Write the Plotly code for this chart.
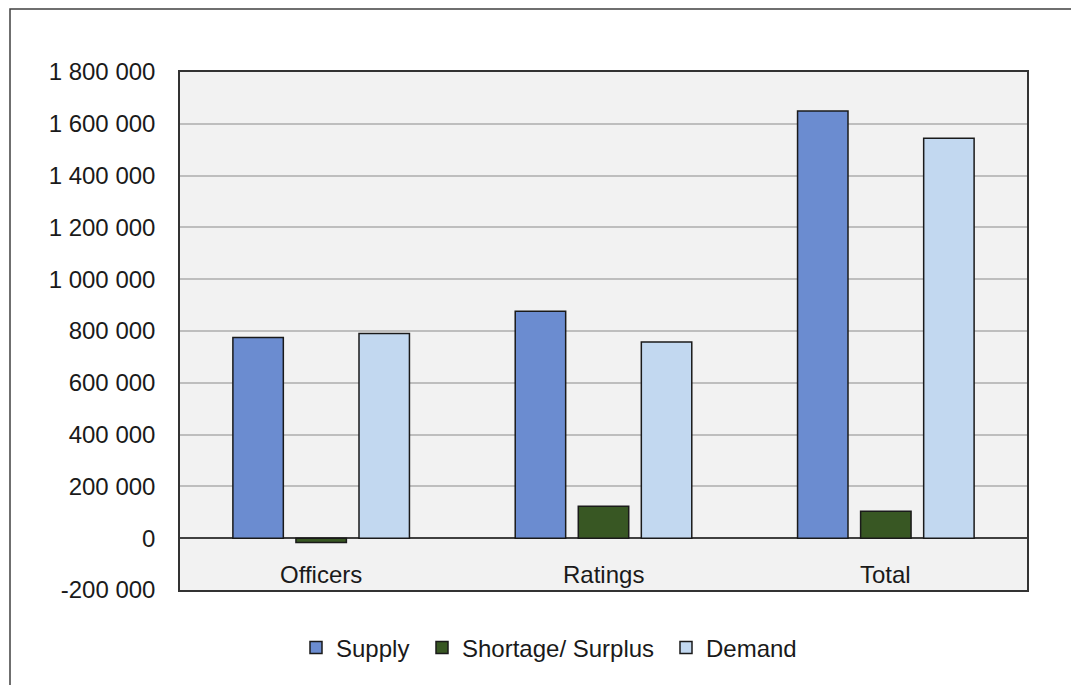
import plotly.graph_objects as go

categories = ["Officers", "Ratings", "Total"]
supply = [775000, 876000, 1649000]
shortage = [-16500, 123000, 104000]
demand = [790000, 758000, 1544000]
series_names = ["Supply", "Shortage/ Surplus", "Demand"]
colors = ["#6B8CD0", "#385723", "#C2D8F0"]
tick_vals = [-200000, 0, 200000, 400000, 600000, 800000, 1000000, 1200000, 1400000, 1600000, 1800000]
tick_text = ["-200 000", "0", "200 000", "400 000", "600 000", "800 000", "1 000 000",
             "1 200 000", "1 400 000", "1 600 000", "1 800 000"]

FONT = "Liberation Sans, Arial, sans-serif"
FS = 24
W, H = 1071, 685
L, R, T, B = 180, 1027, 72, 590
pw, ph = R - L, B - T

legend_ids = ["legend", "legend2", "legend3"]
legend_left_px = [296, 422, 666]

fig = go.Figure()
for name, vals, col, lg in zip(series_names, [supply, shortage, demand], colors, legend_ids):
    fig.add_trace(go.Bar(x=categories, y=vals, name=name, legend=lg,
                         marker=dict(color=col, line=dict(color="#1a1a1a", width=1.5))))

for c in categories:
    fig.add_annotation(x=c, y=-100000, xref="x", yref="y", text=c, showarrow=False,
                       font=dict(family=FONT, size=FS, color="#1a1a1a"), yshift=-10)

fig.add_shape(type="rect", xref="paper", yref="paper",
              x0=(10 - L) / pw, x1=(1090 - L) / pw, y0=(B - 720) / ph, y1=(B - 9) / ph,
              line=dict(color="#404040", width=1.5), fillcolor="rgba(0,0,0,0)", layer="below")

legend_common = dict(orientation="h", xanchor="left", y=(B - 648) / ph, yanchor="middle",
                     font=dict(family=FONT, size=FS, color="#1a1a1a"), bgcolor="rgba(0,0,0,0)",
                     itemwidth=30)
layout_legends = {}
for lg, px in zip(legend_ids, legend_left_px):
    layout_legends[lg] = dict(legend_common, x=(px - L) / pw)

fig.update_layout(
    width=W, height=H,
    margin=dict(l=L, r=W - R, t=T, b=H - B),
    paper_bgcolor="white", plot_bgcolor="#F2F2F2",
    barmode="group", bargap=0.33, bargroupgap=0.2,
    font=dict(family=FONT, size=FS, color="#1a1a1a"),
    showlegend=True,
    xaxis=dict(showticklabels=False, showgrid=False, showline=True, mirror=True,
               linecolor="#333333", linewidth=1.5, ticks=""),
    yaxis=dict(range=[-200000, 1800000], tickvals=tick_vals, ticktext=tick_text,
               showgrid=True, gridcolor="#BEBEBE", gridwidth=1.5,
               zeroline=True, zerolinecolor="#404040", zerolinewidth=1.5,
               showline=True, mirror=True, linecolor="#333333", linewidth=1.5,
               ticks="", ticklabelstandoff=18,
               tickfont=dict(family=FONT, size=FS, color="#1a1a1a")),
    **layout_legends,
)

fig.write_html("out.html")
